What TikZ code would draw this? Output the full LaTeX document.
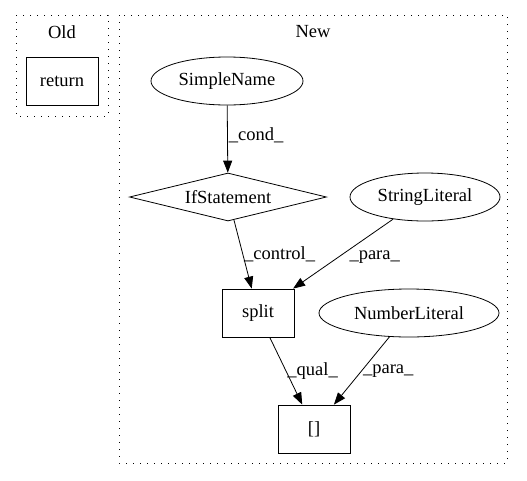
\documentclass[tikz,border=0pt]{standalone}
\usepackage{fontspec}
\setmainfont{Liberation Serif}
\usetikzlibrary{arrows.meta,shapes.geometric}

\tikzset{
    box/.style={draw, rectangle, minimum width=72pt, minimum height=48pt, inner sep=0pt},
    oval/.style={draw, ellipse, minimum height=48pt, inner sep=0pt},
    cond/.style={draw, diamond, aspect=4, minimum width=197pt, minimum height=48pt, inner sep=0pt},
    edge/.style={-{Triangle[length=12pt,width=9pt]}, line width=0.8pt},
    lbl/.style={inner sep=1pt},
    cluster/.style={line width=1pt, dash pattern=on 1.3pt off 5.7pt}
}

\begin{document}
\begin{tikzpicture}[x=1pt, y=-1pt, font=\fontsize{18.5}{21}\selectfont, line width=0.8pt]
    \useasboundingbox (0,0) rectangle (527,480);

    % the two clusters
    \draw[cluster] (16,15) rectangle (108,116);
    \node (old) at (62,32) {Old};
    \draw[cluster] (119,15) rectangle (507,463);
    \node (new) at (313,32) {New};

    % old graph
    \node[box] (ret) at (62,81) {return};

    % new graph
    \node[oval, minimum width=152pt] (sname) at (227,81) {SimpleName};
    \node[cond] (ifst) at (228,197) {IfStatement};
    \node[oval, minimum width=150pt] (slit) at (425,197) {StringLiteral};
    \node[box] (split) at (258,313) {split};
    \node[oval, minimum width=180pt] (nlit) at (409,313) {NumberLiteral};
    \node[box] (idx) at (314,429) {[]};

    % edges with labels
    \draw[edge] (sname) -- node[lbl, right, pos=0.45] (lcond) {\_cond\_} (ifst);
    \draw[edge] (ifst) -- node[lbl, right, pos=0.5] (lctrl) {\_control\_} (split);
    \draw[edge] (slit) -- node[lbl, right, pos=0.55, xshift=10pt] (lpara) {\_para\_} (split);
    \draw[edge] (split) -- node[lbl, right, pos=0.5] (lqual) {\_qual\_} (idx);
    \draw[edge] (nlit) -- node[lbl, right, pos=0.5] (lpara2) {\_para\_} (idx);
\end{tikzpicture}
\end{document}
